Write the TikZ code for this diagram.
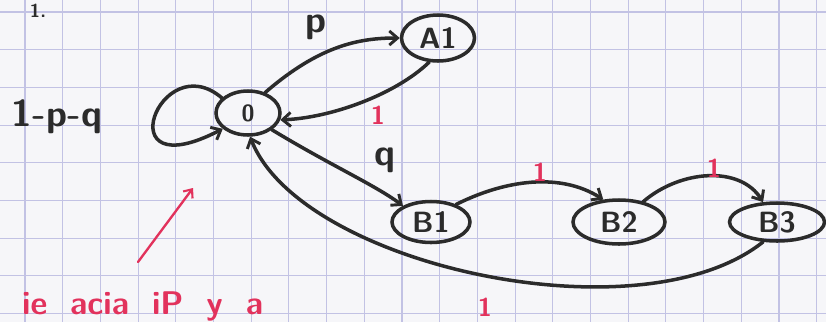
\documentclass[tikz,border=0pt]{standalone}
\usepackage{xcolor}
\usepackage{tikz}
\usetikzlibrary{positioning,calc,arrows.meta,shapes.geometric}
\definecolor{CPaper}{HTML}{F6F6F9}
\definecolor{CGrid}{HTML}{C2C2E4}
\definecolor{CInk}{HTML}{2B2B2B}
\definecolor{CRed}{HTML}{E2325C}

\begin{document}
\begin{tikzpicture}[x=0.03cm, y=-0.03cm,
  state/.style={ellipse, draw=CInk, line width=3pt, inner sep=0pt, font=\sffamily\bfseries\fontsize{25}{27}\selectfont, text=CInk},
  edge/.style={CInk, line width=3pt, line cap=round, -{Straight Barb[length=7pt,width=12pt,line width=2.5pt]}},
  inklabel/.style={font=\sffamily\bfseries\fontsize{32}{34}\selectfont, text=CInk},
  redlabel/.style={font=\sffamily\bfseries\fontsize{22}{24}\selectfont, text=CRed},
  gridline/.style={CGrid, line width=0.9pt}]
\fill[CPaper] (0,0) rectangle (826,322);
\useasboundingbox (0,0) rectangle (826,322);
\clip (0,0) rectangle (826,322);
\foreach \i in {0,...,21}{
  \draw[gridline] (25+37.7*\i,0) -- (25+37.7*\i,322);
}
\foreach \j in {0,...,8}{
  \draw[gridline] (0,12+37.7*\j) -- (826,12+37.7*\j);
}
\node[inklabel, anchor=north, font=\sffamily\bfseries\fontsize{16}{18}\selectfont] (num) at (38,0) {1.};
% states
\node[state, minimum width=64*0.03cm, minimum height=44*0.03cm, font=\sffamily\bfseries\fontsize{20}{22}\selectfont] (o) at (248,113) {0};
\node[state, minimum width=73*0.03cm, minimum height=46*0.03cm] (a1) at (438,38) {A1};
\node[state, minimum width=78*0.03cm, minimum height=41*0.03cm] (b1) at (431,222) {B1};
\node[state, minimum width=92*0.03cm, minimum height=44*0.03cm] (b2) at (619,222) {B2};
\node[state, minimum width=95*0.03cm, minimum height=38*0.03cm] (b3) at (777,222) {B3};
% transitions
\draw[edge] (o.150) .. controls (160,45) and (105,190) .. (o.212);
\draw[edge] (o.50) .. controls (320,45) and (360,38) .. (a1.west);
\draw[edge] (a1.250) .. controls (395,95) and (330,118) .. (o.-12);
\draw[edge] (o.-35) .. controls (330,165) and (375,185) .. (b1.150);
\draw[edge] (b1.35) .. controls (505,180) and (560,172) .. (b2.125);
\draw[edge] (b2.40) .. controls (680,170) and (740,165) .. (b3.125);
\draw[edge] (b3.235) .. controls (640,340) and (300,265) .. (o.-85);
% labels
\node[inklabel] (lp) at (316,27) {p};
\node[inklabel] (lq) at (385,160) {q};
\node[inklabel] (lloop) at (57,117) {1-p-q};
\node[redlabel] (la1) at (378,115) {1};
\node[redlabel] (lb12) at (540,172) {1};
\node[redlabel] (lb23) at (714,168) {1};
\node[redlabel] (lb30) at (485,307) {1};
% note
\coordinate (tail) at (138,262);
\coordinate (head) at (193,188);
\draw[CRed, line width=2pt, line cap=round, -{Straight Barb[length=6pt,width=10pt,line width=1.8pt]}] (tail) -- (head);
\node[redlabel, anchor=west, font=\sffamily\bfseries\fontsize{28}{30}\selectfont] (note) at (18,306) {ie\hspace{0.7em}acia\hspace{0.7em}iP\hspace{0.7em}y\hspace{0.7em}a};
\end{tikzpicture}
\end{document}
